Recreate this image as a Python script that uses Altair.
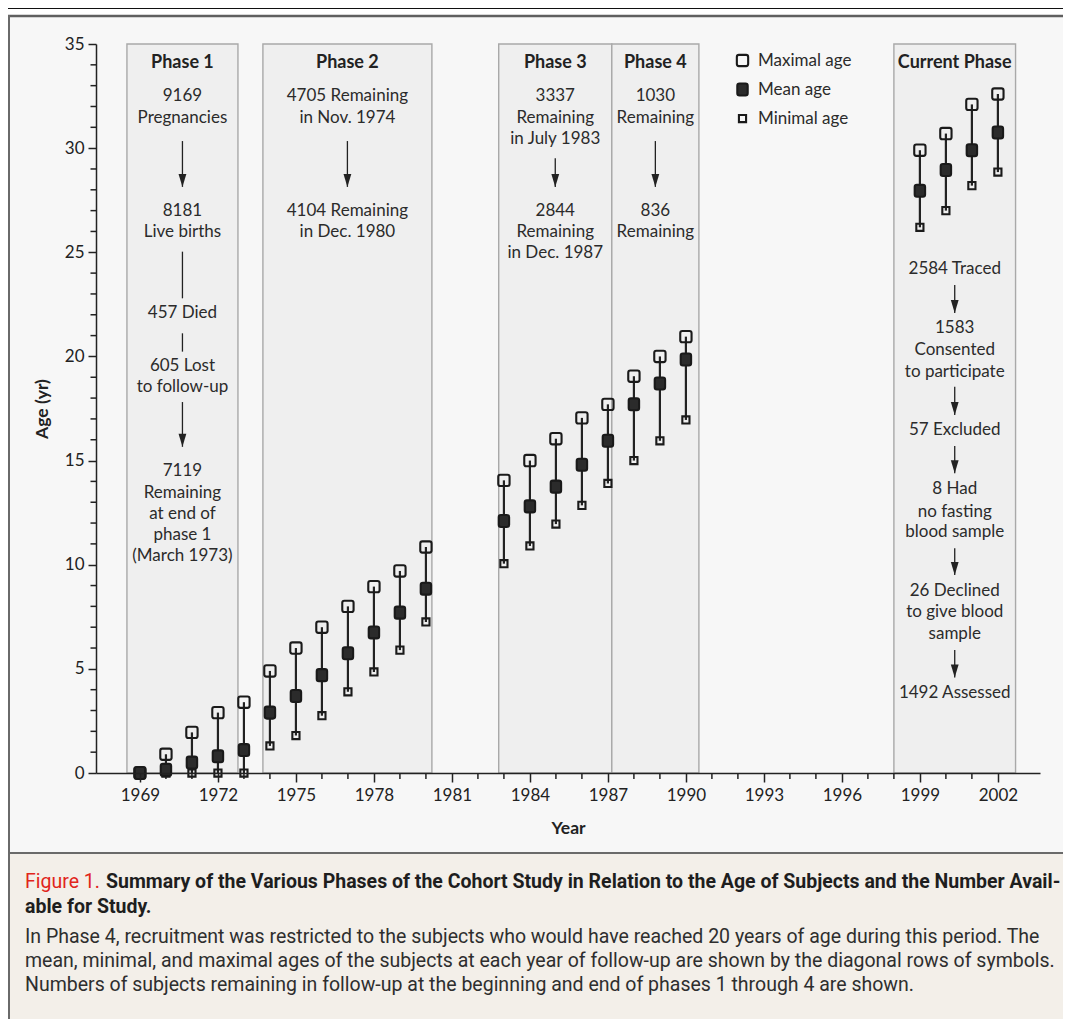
import altair as alt
import pandas as pd

# ---------------- data ----------------
years = [1969, 1970, 1971, 1972, 1973, 1974, 1975, 1976, 1977, 1978, 1979, 1980,
         1983, 1984, 1985, 1986, 1987, 1988, 1989, 1990,
         1999, 2000, 2001, 2002]
max_age = [0, 0.9, 1.95, 2.9, 3.4, 4.9, 6.0, 7.0, 8.0, 8.95, 9.7, 10.85,
           14.05, 15.0, 16.05, 17.05, 17.7, 19.05, 20.0, 20.95,
           29.9, 30.7, 32.1, 32.6]
mean_age = [0, 0.15, 0.5, 0.8, 1.1, 2.9, 3.7, 4.7, 5.75, 6.75, 7.7, 8.85,
            12.1, 12.8, 13.75, 14.8, 15.95, 17.7, 18.7, 19.85,
            27.95, 28.95, 29.9, 30.75]
min_age = [0, 0, 0, 0, 0, 1.3, 1.8, 2.75, 3.9, 4.85, 5.9, 7.25,
           10.05, 10.9, 11.95, 12.85, 13.9, 15.0, 15.95, 16.95,
           26.2, 27.0, 28.2, 28.85]
series_names = ["Maximal age", "Mean age", "Minimal age"]

phase_names = ["Phase 1", "Phase 2", "Phase 3", "Phase 4", "Current Phase"]
phase_start = [1968.5, 1973.73, 1982.8, 1987.15, 1998.0]
phase_end = [1972.77, 1980.23, 1987.15, 1990.5, 2002.68]

# flow-chart notes: phase index, age level, text
note_phase = [0] * 12 + [1] * 4 + [2] * 6 + [3] * 4 + [4] * 12
note_age = [32.50, 31.47, 26.98, 25.97, 22.07, 19.55, 18.55, 14.50, 13.46, 12.42, 11.43, 10.42,
            32.50, 31.47, 26.98, 25.97,
            32.50, 31.47, 30.44, 26.98, 25.97, 24.96,
            32.50, 31.47, 26.98, 25.97,
            24.18, 21.35, 20.31, 19.27, 16.47, 13.62, 12.54, 11.56, 8.74, 7.71, 6.66, 3.83]
note_text = ["9169", "Pregnancies", "8181", "Live births", "457 Died", "605 Lost", "to follow-up",
             "7119", "Remaining", "at end of", "phase 1", "(March 1973)",
             "4705 Remaining", "in Nov. 1974", "4104 Remaining", "in Dec. 1980",
             "3337", "Remaining", "in July 1983", "2844", "Remaining", "in Dec. 1987",
             "1030", "Remaining", "836", "Remaining",
             "2584 Traced", "1583", "Consented", "to participate", "57 Excluded",
             "8 Had", "no fasting", "blood sample", "26 Declined", "to give blood", "sample",
             "1492 Assessed"]
header_age = 34.07

arrow_phase = [0, 0, 0, 0, 1, 2, 3, 4, 4, 4, 4, 4]
arrow_from = [30.34, 25.03, 21.11, 17.81, 30.34, 29.52, 30.34, 23.43, 18.55, 15.70, 10.79, 5.90]
arrow_to = [28.14, 22.79, 20.23, 15.66, 28.14, 28.14, 28.14, 22.08, 17.19, 14.39, 9.51, 4.59]
arrow_head = [True, False, False, True, True, True, True, True, True, True, True, True]

x_major = list(range(1969, 2003, 3))
x_minor = [y for y in range(1970, 2002) if (y - 1969) % 3]
y_major = list(range(0, 36, 5))
y_minor = [a for a in range(1, 35) if a % 5]

caption_title_1 = ("Summary of the Various Phases of the Cohort Study in Relation to the Age of "
                   "Subjects and the Number Avail-")
caption_title_2 = "able for Study."
caption_body = [
    "In Phase 4, recruitment was restricted to the subjects who would have reached 20 years of age during this period. The",
    "mean, minimal, and maximal ages of the subjects at each year of follow-up are shown by the diagonal rows of symbols.",
    "Numbers of subjects remaining in follow-up at the beginning and end of phases 1 through 4 are shown.",
]

# ---------------- tables ----------------
rows = []
for name, col in [("Maximal age", max_age), ("Minimal age", min_age), ("Mean age", mean_age)]:
    for yr, v in zip(years, col):
        rows.append({"Year": yr, "Series": name, "Age": v})
long_df = pd.DataFrame(rows)
range_df = pd.DataFrame({"Year": years, "Min": min_age, "Max": max_age})

phase_df = pd.DataFrame({"Phase": phase_names, "start": phase_start, "end": phase_end})
phase_df["center"] = (phase_df["start"] + phase_df["end"]) / 2
centers = phase_df["center"].tolist()
phase_df["hage"] = header_age

notes_df = pd.DataFrame({"cx": [centers[i] for i in note_phase], "Age": note_age, "Text": note_text})
arrows_df = pd.DataFrame({"cx": [centers[i] for i in arrow_phase], "From": arrow_from,
                          "To": arrow_to, "Head": arrow_head})
heads_df = arrows_df[arrows_df["Head"]]

# ---------------- styling ----------------
W, H = 944, 729
FONT = "Lato"
CAP_FONT = "Roboto"
INK = "#222222"
TXT = "#2b2b2b"
xscale = alt.Scale(domain=[1967.31, 2003.62], nice=False, zero=False)
yscale = alt.Scale(domain=[0, 35], nice=False, zero=False)
one = alt.Data(values=[{"k": 0}])

x_axis = alt.Axis(values=x_major, format="d", title="Year", labelFont=FONT, labelFontSize=17,
                  labelColor=INK, labelPadding=5, tickSize=9, tickWidth=1.5, tickColor=INK,
                  domainColor=INK, domainWidth=1.5, grid=False, zindex=1,
                  titleFont=FONT, titleFontSize=17.5, titleFontWeight="bold", titleColor=INK,
                  titleX=472, titleY=55, titleBaseline="middle", titleAlign="center")
y_axis = alt.Axis(values=y_major, title="Age (yr)", labelFont=FONT, labelFontSize=17,
                  labelColor=INK, labelPadding=4, tickSize=8, tickWidth=1.5, tickColor=INK,
                  domainColor=INK, domainWidth=1.5, grid=False, zindex=1,
                  titleFont=FONT, titleFontSize=17.5, titleFontWeight="bold", titleColor=INK,
                  titleX=-54, titleY=H / 2, titleBaseline="middle", titleAlign="center")

max_path = ("M-0.55,-0.87L0.55,-0.87Q0.87,-0.87 0.87,-0.55L0.87,0.55Q0.87,0.87 0.55,0.87"
            "L-0.55,0.87Q-0.87,0.87 -0.87,0.55L-0.87,-0.55Q-0.87,-0.87 -0.55,-0.87Z")
mean_path = ("M-0.46,-0.92L0.46,-0.92Q0.8,-0.92 0.8,-0.58L0.8,0.58Q0.8,0.92 0.46,0.92"
             "L-0.46,0.92Q-0.8,0.92 -0.8,0.58L-0.8,-0.58Q-0.8,-0.92 -0.46,-0.92Z")
min_path = "M-0.55,-0.55L0.55,-0.55L0.55,0.55L-0.55,0.55Z"
arrow_path = "M-0.6,-2L0.6,-2L0,0Z"
shape_paths = [max_path, mean_path, min_path]
shape_fills = ["transparent", "#2b2b2b", "transparent"]


def rect_px(x1, x2, y1, y2, fill):
    return alt.Chart(one).mark_rect(fill=fill).encode(
        x=alt.value(x1), x2=alt.value(x2), y=alt.value(y1), y2=alt.value(y2))


def hrule_px(x1, x2, y, color, width):
    return alt.Chart(one).mark_rule(color=color, strokeWidth=width).encode(
        x=alt.value(x1), x2=alt.value(x2), y=alt.value(y))


def vrule_px(x, y1, y2, color, width):
    return alt.Chart(one).mark_rule(color=color, strokeWidth=width).encode(
        x=alt.value(x), y=alt.value(y1), y2=alt.value(y2))


def text_px(txt, x, y, size, weight="normal", color=INK, font=CAP_FONT):
    return alt.Chart(one).mark_text(text=txt, align="left", baseline="middle", font=font,
                                    fontSize=size, fontWeight=weight, color=color).encode(
        x=alt.value(x), y=alt.value(y))


def symbol_px(path, fill, x, y):
    return alt.Chart(one).mark_point(shape=path, fill=fill, stroke="#1a1a1a", strokeWidth=2.1,
                                     size=169, opacity=1).encode(x=alt.value(x), y=alt.value(y))


# ---------------- layers ----------------
top_white = rect_px(-90, 980, -40, -28, "white")
caption_bg = rect_px(-88, 980, 809, 990, "#f3efe9")
top_black = hrule_px(-88, 980, -35.5, "#111111", 1)
top_gray = hrule_px(-88, 980, -28, "#5f5f5f", 2.5)
left_border = vrule_px(-87, -29, 990, "#6a6a6a", 2)
divider = hrule_px(-88, 980, 809, "#6a6a6a", 2)

# the shared axes are declared once; the other layers leave their axis unspecified
phase_boxes = alt.Chart(phase_df).mark_rect(fill="#efefef", stroke="#a9a9a9", strokeWidth=1.4).encode(
    x=alt.X("start:Q", scale=xscale, axis=x_axis),
    x2="end:Q",
    y=alt.value(0),
    y2=alt.value(H),
)
y_minor_ticks = alt.Chart(pd.DataFrame({"Age": y_minor})).mark_rule(color=INK, strokeWidth=1.5).encode(
    y=alt.Y("Age:Q", scale=yscale, axis=y_axis), x=alt.value(0), x2=alt.value(-5.5))
x_minor_ticks = alt.Chart(pd.DataFrame({"Year": x_minor})).mark_rule(color=INK, strokeWidth=1.5).encode(
    x=alt.X("Year:Q", scale=xscale), y=alt.value(H), y2=alt.value(H + 6))

ranges = alt.Chart(range_df).mark_rule(color=INK, strokeWidth=2.2).encode(
    x=alt.X("Year:Q", scale=xscale),
    y=alt.Y("Min:Q", scale=yscale),
    y2="Max:Q",
)

points = alt.Chart(long_df).mark_point(opacity=1, stroke="#1a1a1a", strokeWidth=2.1, size=169).encode(
    x=alt.X("Year:Q", scale=xscale),
    y=alt.Y("Age:Q", scale=yscale),
    shape=alt.Shape("Series:N", scale=alt.Scale(domain=series_names, range=shape_paths), legend=None),
    fill=alt.Fill("Series:N", scale=alt.Scale(domain=series_names, range=shape_fills), legend=None),
)

# legend (symbols + labels) placed in the empty upper area
legend_layers = []
for i, name in enumerate(series_names):
    legend_layers.append(symbol_px(shape_paths[i], shape_fills[i], 646.5, 16.5 + 29 * i))
    legend_layers.append(text_px(name, 662, 16.5 + 29 * i, 17, color=TXT, font=FONT))

notes = alt.Chart(notes_df).mark_text(font=FONT, fontSize=17, color=TXT, align="center",
                                      baseline="middle").encode(
    x=alt.X("cx:Q", scale=xscale),
    y=alt.Y("Age:Q", scale=yscale),
    text="Text:N",
)

headers = alt.Chart(phase_df).mark_text(font=FONT, fontSize=18, fontWeight="bold", color=INK,
                                        align="center", baseline="middle").encode(
    x=alt.X("center:Q", scale=xscale),
    y=alt.Y("hage:Q", scale=yscale),
    text="Phase:N",
)

arrow_lines = alt.Chart(arrows_df).mark_rule(color=INK, strokeWidth=1.3).encode(
    x=alt.X("cx:Q", scale=xscale),
    y=alt.Y("From:Q", scale=yscale),
    y2="To:Q",
)
arrow_heads = alt.Chart(heads_df).mark_point(shape=arrow_path, size=169, filled=True, color=INK,
                                             opacity=1).encode(
    x=alt.X("cx:Q", scale=xscale),
    y=alt.Y("To:Q", scale=yscale),
)

CAP = 19.5
cap_red = text_px("Figure 1.", -71, 838, CAP, color="#e1251b")
cap_t1 = text_px(caption_title_1, 10, 838, CAP, weight="bold", color="#1e1e1e")
cap_t2 = text_px(caption_title_2, -71, 863, CAP, weight="bold", color="#1e1e1e")
cap_b = [text_px(line, -71, 893 + 24 * i, CAP, color="#2e2e2e") for i, line in enumerate(caption_body)]

chart = alt.layer(
    top_white, caption_bg, top_black, top_gray, left_border, divider,
    phase_boxes, y_minor_ticks, x_minor_ticks, ranges, points,
    notes, headers, arrow_lines, arrow_heads, *legend_layers,
    cap_red, cap_t1, cap_t2, *cap_b,
).properties(
    width=W, height=H,
    padding={"left": 88, "top": 36, "right": 23, "bottom": 246},
    autosize=alt.AutoSizeParams(type="none"),
    background="#f7f7f7",
).configure_view(strokeOpacity=0)

chart.save("out.html", embed_options={"renderer": "svg", "actions": False})
